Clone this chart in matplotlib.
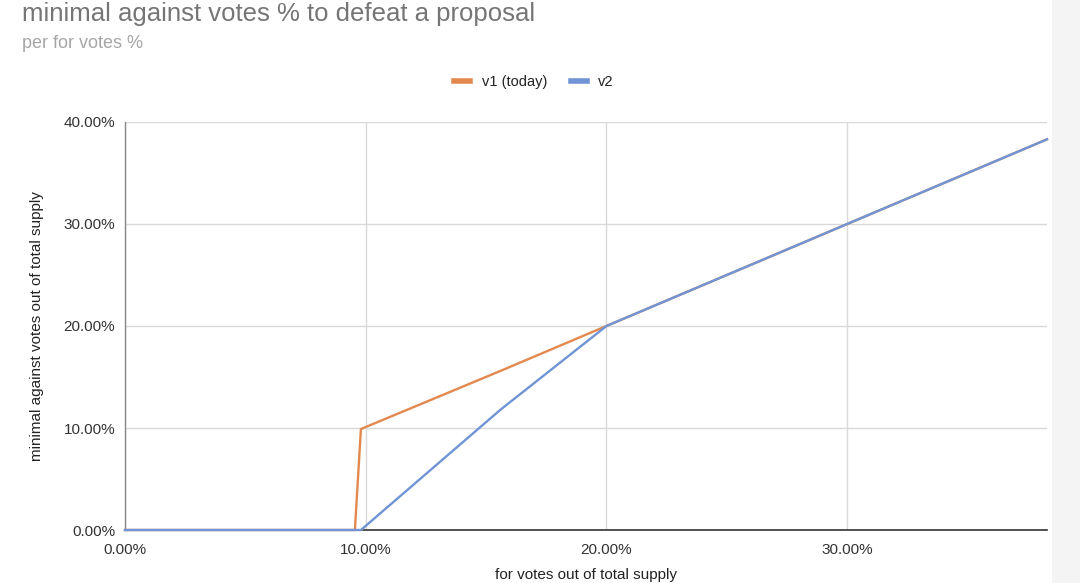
import matplotlib
matplotlib.use("Agg")
import matplotlib.pyplot as plt
from matplotlib.lines import Line2D
from matplotlib.patches import Rectangle
from matplotlib.ticker import FuncFormatter

plt.rcParams['font.family'] = ['Liberation Sans', 'DejaVu Sans']

# for-votes share (% of total supply) sampled along the curve
for_votes = [0.0, 9.55, 9.8, 15.6, 20.0, 38.3]
# minimal against votes needed to defeat a proposal
v1_today = [0.0, 0.0, 9.9, 15.6, 20.0, 38.3]
v2 = [0.0, 0.0, 0.0, 11.8, 20.0, 38.3]

series_names = ["v1 (today)", "v2"]
series_colors = ["#E3894F", "#7094D4"]

x_ticks = [0, 10, 20, 30]
y_ticks = [0, 10, 20, 30, 40]

fig = plt.figure(figsize=(10.8, 5.83), dpi=100)
fig.patch.set_facecolor("white")

W, H = 1080, 583
ax = fig.add_axes([125 / W, 1 - 530 / H, (1047 - 125) / W, (530 - 122) / H])
ax.set_xlim(0, 38.3)
ax.set_ylim(0, 40)

ax.plot(for_votes, v1_today, color=series_colors[0], lw=1.7,
        zorder=3, clip_on=False)
ax.plot(for_votes, v2, color=series_colors[1], lw=1.7, zorder=4, clip_on=False)

ax.set_xticks(x_ticks)
ax.set_yticks(y_ticks)
pct = FuncFormatter(lambda v, p: f"{v:.2f}%")
ax.xaxis.set_major_formatter(pct)
ax.yaxis.set_major_formatter(pct)
ax.grid(True, color="#d9d9d9", lw=1)
ax.set_axisbelow(True)
for s in ["top", "right"]:
    ax.spines[s].set_visible(False)
ax.spines["bottom"].set_color("#333333")
ax.spines["bottom"].set_linewidth(1.2)
ax.spines["left"].set_color("#888888")
ax.spines["left"].set_linewidth(1.0)
ax.tick_params(length=0, labelsize=11, colors="#333333")
ax.tick_params(axis="x", pad=9)
ax.tick_params(axis="y", pad=7)

ax.set_ylabel("minimal against votes out of total supply", fontsize=11,
              color="#222222", labelpad=14)

fig.text(586 / W, 1 - 582 / H, "for votes out of total supply", ha="center",
         va="bottom", fontsize=11, color="#222222")

fig.text(22 / W, 1 - 21 / H, "minimal against votes % to defeat a proposal",
         fontsize=18.5, color="#757575", va="baseline", ha="left")
fig.text(22 / W, 1 - 48 / H, "per for votes %", fontsize=13,
         color="#a6a6a6", va="baseline", ha="left")

handles = [Line2D([], [], color=c, lw=4) for c in series_colors]
fig.legend(handles, series_names, loc="center", bbox_to_anchor=(534 / W, 1 - 82 / H),
           ncol=2, frameon=False, fontsize=10.5, handlelength=1.1,
           handletextpad=0.8, columnspacing=1.6, labelcolor="#222222")

fig.patches.append(Rectangle((1052 / W, 0), 28 / W, 1, transform=fig.transFigure,
                             facecolor="#f4f4f4", edgecolor="none", zorder=-1))

fig.savefig("out.png", dpi=100, facecolor="white")
